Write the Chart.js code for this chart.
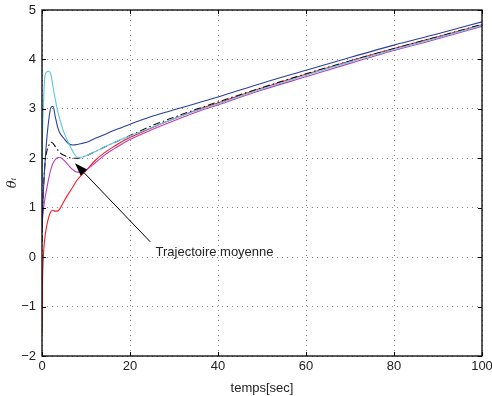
<!DOCTYPE html>
<html>
<head>
<meta charset="utf-8">
<script src="https://cdn.jsdelivr.net/npm/chart.js@4.4.0/dist/chart.umd.min.js"></script>
<style>
  html, body { margin: 0; padding: 0; background: #fff; }
  #wrap { width: 492px; height: 396px; }
</style>
</head>
<body>
<div id="wrap"><canvas id="c" width="492" height="396"></canvas></div>
<script>
// time samples (sec)
var temps = [0, 0.1, 0.3, 0.6, 1, 1.5, 2, 2.5, 3, 3.5, 4, 5, 6, 7, 8, 9, 10, 12, 14, 16, 18, 20, 25, 30, 35, 40, 50, 60, 70, 80, 90, 100];

var thetaRouge  = [-1.55, -0.6, 0.0, 0.35, 0.6, 0.8, 0.92, 0.95, 0.93, 0.93, 0.97, 1.13, 1.28, 1.42, 1.56, 1.66, 1.75, 1.95, 2.1, 2.22, 2.33, 2.42, 2.62, 2.8, 2.97, 3.12, 3.42, 3.70, 3.97, 4.22, 4.46, 4.70];
var thetaBleu   = [0.5, 0.8, 1.3, 1.8, 2.3, 2.75, 3.02, 3.05, 2.85, 2.65, 2.52, 2.4, 2.3, 2.27, 2.28, 2.3, 2.32, 2.4, 2.47, 2.55, 2.62, 2.69, 2.85, 2.98, 3.11, 3.24, 3.52, 3.78, 4.04, 4.29, 4.52, 4.76];
var thetaCyan   = [1.5, 2.4, 3.0, 3.6, 3.74, 3.76, 3.7, 3.45, 3.2, 2.98, 2.8, 2.52, 2.32, 2.14, 2.02, 2.02, 2.05, 2.13, 2.22, 2.3, 2.38, 2.45, 2.63, 2.8, 2.96, 3.1, 3.4, 3.68, 3.95, 4.2, 4.44, 4.69];
var thetaMagenta= [0.6, 0.75, 0.95, 1.15, 1.35, 1.58, 1.77, 1.9, 1.97, 2.01, 2.02, 1.96, 1.86, 1.77, 1.72, 1.72, 1.76, 1.9, 2.05, 2.17, 2.28, 2.38, 2.58, 2.76, 2.93, 3.08, 3.38, 3.65, 3.92, 4.18, 4.42, 4.67];
var thetaMoyen  = [0.3, 0.75, 1.3, 1.8, 2.1, 2.25, 2.33, 2.3, 2.24, 2.18, 2.12, 2.06, 2.02, 2.0, 2.0, 2.02, 2.05, 2.13, 2.22, 2.3, 2.38, 2.46, 2.66, 2.83, 2.99, 3.14, 3.43, 3.71, 3.97, 4.22, 4.46, 4.71];

var xTicks = [0, 20, 40, 60, 80, 100];
var yTicks = [-2, -1, 0, 1, 2, 3, 4, 5];

// annotation (data units)
var noteText = "Trajectoire moyenne";
var noteAt = [25.8, 0.1];
var arrowFrom = [24.6, 0.31];
var arrowTo = [7.5, 1.9];

function pts(ys) {
  return temps.map(function (t, i) { return { x: t, y: ys[i] }; });
}

function serie(ys, color, dash) {
  return {
    data: pts(ys),
    borderColor: color,
    borderWidth: 1.1,
    borderDash: dash || [],
    pointRadius: 0,
    cubicInterpolationMode: 'monotone',
    fill: false
  };
}

var cadre = {
  id: 'cadre',
  afterDraw: function (chart) {
    var ctx = chart.ctx, a = chart.chartArea;
    var xs = chart.scales.x, ys = chart.scales.y;
    ctx.save();
    ctx.strokeStyle = '#000';
    ctx.lineWidth = 1;
    ctx.setLineDash([]);
    ctx.beginPath();
    xTicks.forEach(function (v) {
      var px = Math.round(xs.getPixelForValue(v)) + 0.5;
      ctx.moveTo(px, a.bottom); ctx.lineTo(px, a.bottom - 4);
      ctx.moveTo(px, a.top); ctx.lineTo(px, a.top + 4);
    });
    yTicks.forEach(function (v) {
      var py = Math.round(ys.getPixelForValue(v)) + 0.5;
      ctx.moveTo(a.left, py); ctx.lineTo(a.left + 4, py);
      ctx.moveTo(a.right, py); ctx.lineTo(a.right - 4, py);
    });
    ctx.stroke();
    ctx.lineWidth = 1.3;
    ctx.strokeRect(a.left, a.top, a.right - a.left, a.bottom - a.top);

    // annotation arrow
    var x0 = xs.getPixelForValue(arrowFrom[0]), y0 = ys.getPixelForValue(arrowFrom[1]);
    var x1 = xs.getPixelForValue(arrowTo[0]), y1 = ys.getPixelForValue(arrowTo[1]);
    var ang = Math.atan2(y1 - y0, x1 - x0);
    var L = 13, W = 4.5;
    var bx = x1 - L * Math.cos(ang), by = y1 - L * Math.sin(ang);
    ctx.lineWidth = 1;
    ctx.beginPath();
    ctx.moveTo(x0, y0); ctx.lineTo(bx, by);
    ctx.stroke();
    ctx.fillStyle = '#000';
    ctx.beginPath();
    ctx.moveTo(x1, y1);
    ctx.lineTo(bx + W * Math.sin(ang), by - W * Math.cos(ang));
    ctx.lineTo(bx - W * Math.sin(ang), by + W * Math.cos(ang));
    ctx.closePath();
    ctx.fill();

    ctx.font = '13px "Liberation Sans", Arial, sans-serif';
    ctx.fillStyle = '#222';
    ctx.textAlign = 'left';
    ctx.textBaseline = 'middle';
    ctx.fillText(noteText, xs.getPixelForValue(noteAt[0]), ys.getPixelForValue(noteAt[1]));
    ctx.restore();
  }
};

var tickFont = { family: '"Liberation Sans", Arial, sans-serif', size: 13 };

new Chart(document.getElementById('c').getContext('2d'), {
  type: 'line',
  data: {
    datasets: [
      serie(thetaCyan, '#5cc8e2'),
      serie(thetaBleu, '#2b3f9e'),
      serie(thetaMagenta, '#c23cb8'),
      serie(thetaMoyen, '#111', [7, 3, 1.5, 3]),
      serie(thetaRouge, '#f01c24')
    ]
  },
  options: {
    responsive: false,
    animation: false,
    layout: { padding: { top: 10, right: 10, left: 0, bottom: 0 } },
    plugins: { legend: { display: false }, tooltip: { enabled: false } },
    scales: {
      x: {
        type: 'linear',
        min: 0, max: 100,
        afterBuildTicks: function (s) { s.ticks = xTicks.map(function (v) { return { value: v }; }); },
        afterFit: function (s) { s.height = 40; s.paddingLeft = 0; s.paddingRight = 0; },
        ticks: { font: tickFont, color: '#222', padding: 3, maxRotation: 0 },
        grid: { color: '#8a8a8a', lineWidth: 1, drawTicks: false },
        border: { display: false, dash: [1, 4] },
        title: { display: true, text: 'temps[sec]', font: tickFont, color: '#222', padding: { top: 0, bottom: 0 } }
      },
      y: {
        type: 'linear',
        min: -2, max: 5,
        afterBuildTicks: function (s) { s.ticks = yTicks.map(function (v) { return { value: v }; }); },
        afterFit: function (s) { s.width = 42; s.paddingTop = 0; s.paddingBottom = 0; },
        ticks: {
          font: tickFont, color: '#222', padding: 6,
          callback: function (v) { return v < 0 ? '\u2212' + Math.abs(v) : '' + v; }
        },
        grid: { color: '#8a8a8a', lineWidth: 1, drawTicks: false },
        border: { display: false, dash: [1, 4] },
        title: { display: true, text: '\u03b8\u1d62', font: { family: '"DejaVu Serif", serif', size: 13, style: 'italic' }, color: '#222', padding: { top: 5, bottom: 0 } }
      }
    }
  },
  plugins: [cadre]
});
</script>
</body>
</html>
